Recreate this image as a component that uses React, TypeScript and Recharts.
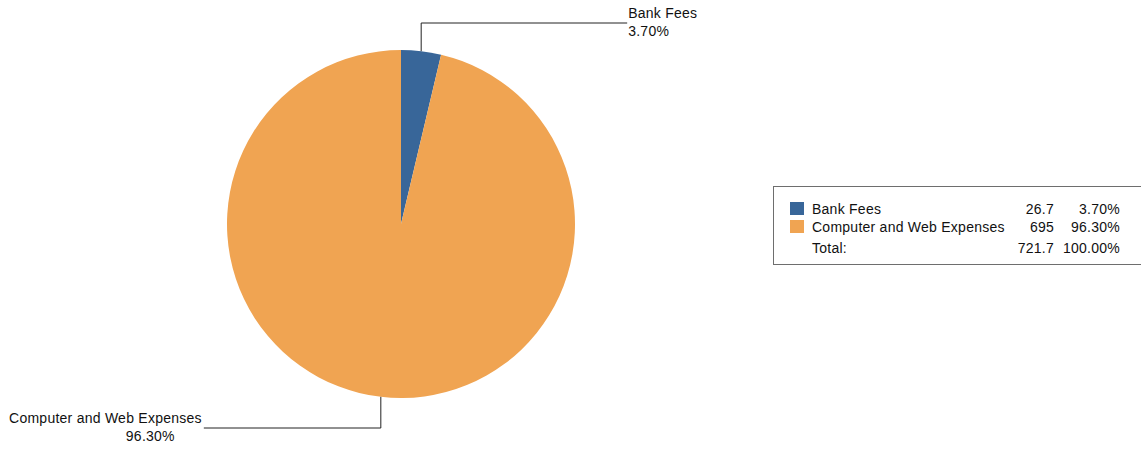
import { PieChart, Pie, Cell, Legend } from "recharts";

const names = ["Bank Fees", "Computer and Web Expenses"];
const values = [26.7, 695];
const valueLabels = ["26.7", "695"];
const shareLabels = ["3.70%", "96.30%"];
const totalName = "Total:";
const totalValue = "721.7";
const totalShare = "100.00%";

const colors = ["#386699", "#F0A452"];
const FONT = "'Liberation Sans', Arial, sans-serif";
const SPACING = 0.25;

const data = names.map((name, i) => ({ name, value: values[i] }));

const RADIAN = Math.PI / 180;
// how far each callout goes past the rim, and how long its horizontal run is
const rise = [27, 30];
const run = [206, -177];

const renderLabel = (props) => {
	const { cx, cy, midAngle, outerRadius, index } = props;
	const x0 = cx + outerRadius * Math.cos(-midAngle * RADIAN);
	const y0 = cy + outerRadius * Math.sin(-midAngle * RADIAN);
	const top = y0 < cy;
	const y1 = top ? cy - outerRadius - rise[index] : cy + outerRadius + rise[index];
	const x2 = x0 + run[index];
	const right = run[index] > 0;
	return (
		<g>
			<path d={`M${x0},${y0}L${x0},${y1}L${x2},${y1}`} stroke="#222" strokeWidth={1} fill="none" />
			<text x={right ? x2 + 1 : x2 - 2} y={y1 - 5} textAnchor={right ? "start" : "end"} fill="#111" fontSize={14} fontFamily={FONT} letterSpacing={SPACING}>
				{names[index]}
			</text>
			<text x={right ? x2 + 1 : x2 - 29} y={y1 + 13} textAnchor={right ? "start" : "end"} fill="#111" fontSize={14} fontFamily={FONT} letterSpacing={SPACING}>
				{shareLabels[index]}
			</text>
		</g>
	);
};

const TableLegend = () => {
	const row = { position: "absolute" as const, left: 0, right: 0, height: 18, lineHeight: "18px" };
	const rows = names.map((n, i) => ({ n, v: valueLabels[i], s: shareLabels[i], c: colors[i] }));
	return (
		<div style={{ position: "relative", width: 380, height: 79, border: "1px solid #6e6e6e", borderRight: "none", boxSizing: "border-box", fontFamily: FONT, fontSize: 14, letterSpacing: SPACING, color: "#111", background: "#fff" }}>
			{rows.map((r, i) => (
				<div key={r.n} style={{ ...row, top: 13 + i * 18 }}>
					<span style={{ position: "absolute", left: 16, top: 2, width: 14, height: 13, background: r.c }} />
					<span style={{ position: "absolute", left: 38 }}>{r.n}</span>
					<span style={{ position: "absolute", right: 380 - 281, textAlign: "right" }}>{r.v}</span>
					<span style={{ position: "absolute", right: 380 - 347, textAlign: "right" }}>{r.s}</span>
				</div>
			))}
			<div style={{ ...row, top: 52 }}>
				<span style={{ position: "absolute", left: 38 }}>{totalName}</span>
				<span style={{ position: "absolute", right: 380 - 281 }}>{totalValue}</span>
				<span style={{ position: "absolute", right: 380 - 347 }}>{totalShare}</span>
			</div>
		</div>
	);
};

export default function App() {
	return (
		<div style={{ position: "absolute", left: 0, top: 0, width: 1141, height: 452, background: "#fff", overflow: "hidden" }}>
			<PieChart width={1141} height={452} margin={{ top: 0, right: 0, bottom: 0, left: 0 }}>
				<Pie
					data={data}
					dataKey="value"
					nameKey="name"
					cx={401}
					cy={224}
					outerRadius={174}
					startAngle={90}
					endAngle={-270}
					stroke="none"
					label={renderLabel}
					labelLine={false}
					isAnimationActive={false}
				>
					{data.map((d, i) => (
						<Cell key={d.name} fill={colors[i]} />
					))}
				</Pie>
				<Legend content={<TableLegend />} wrapperStyle={{ position: "absolute", left: 773, top: 186, width: 380, bottom: "auto" }} />
			</PieChart>
		</div>
	);
}
